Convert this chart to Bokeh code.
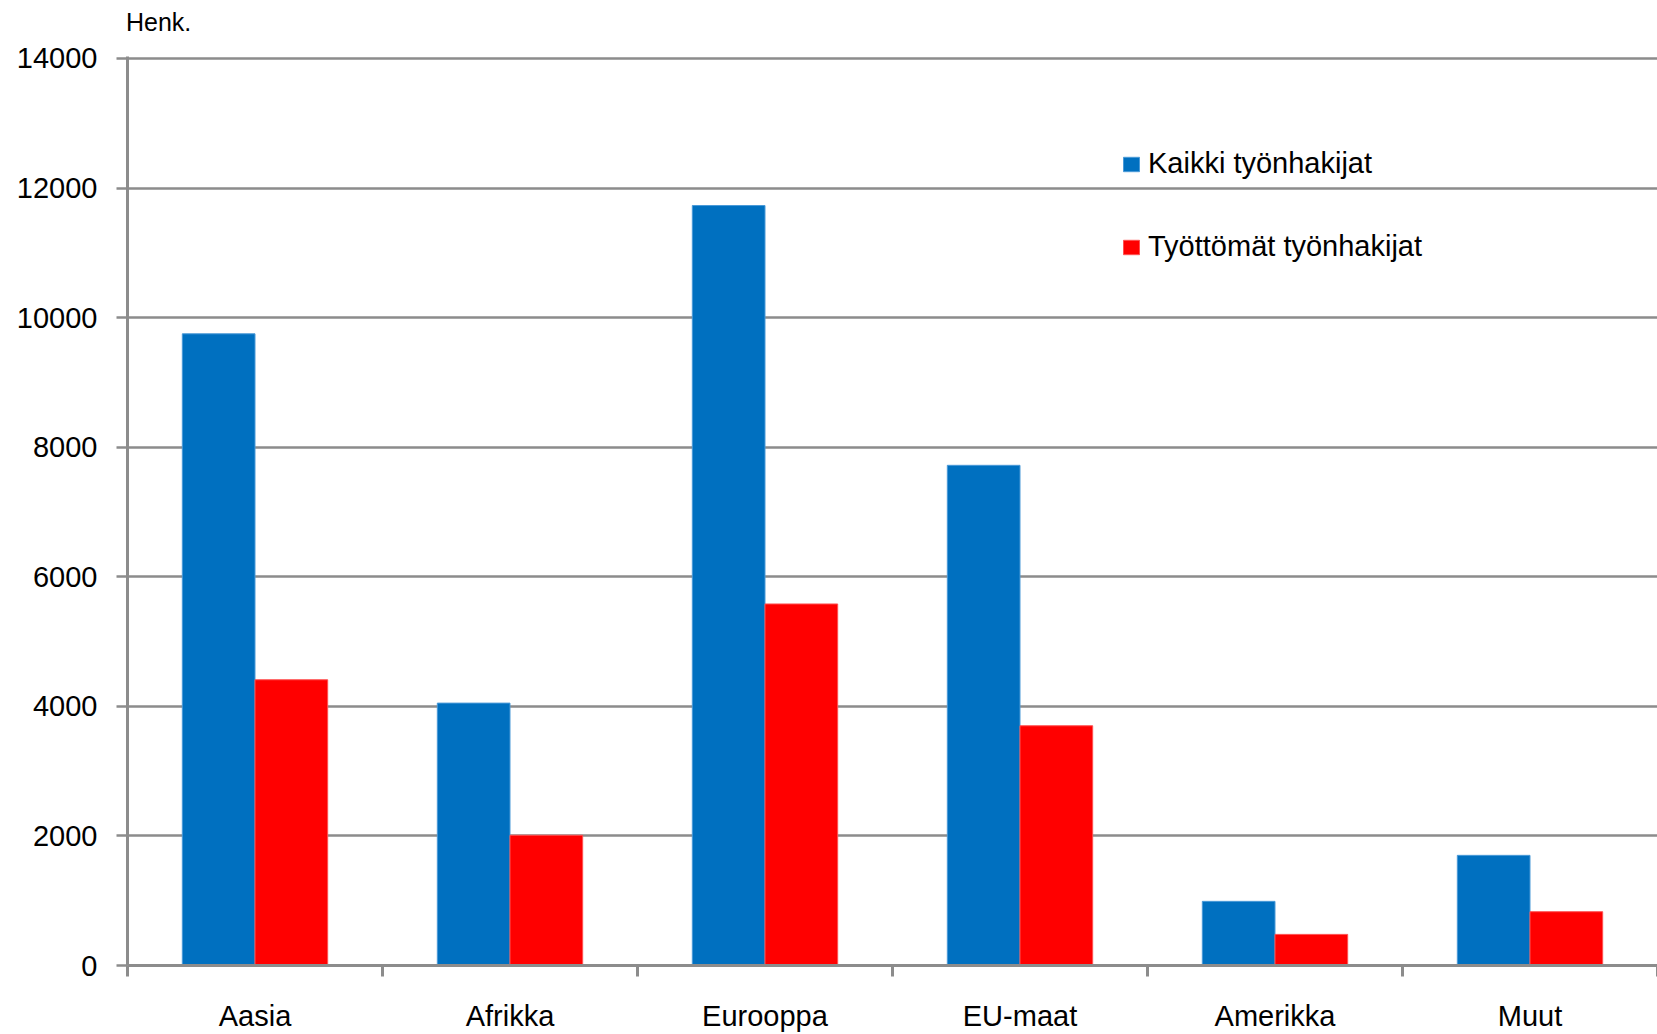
import numpy as np
from bokeh.plotting import figure
from bokeh.models import (ColumnDataSource, FixedTicker, Legend, LegendItem,
                          Range1d, LinearAxis)
from bokeh.embed import file_html
from bokeh.resources import INLINE

categories = ["Aasia", "Afrikka", "Eurooppa", "EU-maat", "Amerikka", "Muut"]
kaikki = [9750, 4050, 11730, 7720, 990, 1700]
tyottomat = [4410, 2010, 5580, 3700, 480, 830]
series_names = ["Kaikki työnhakijat", "Työttömät työnhakijat"]
y_ticks = [0, 2000, 4000, 6000, 8000, 10000, 12000, 14000]
unit_label = "Henk."

FONT = "Liberation Sans"
GREY = "#8c8c8c"
BLUE = "#0070C0"
RED = "#FF0000"
bar_w = 0.285
unit_label_pos = 0.122   # horizontal centre of the unit caption, in category widths

n = len(categories)
centers = np.arange(n) + 0.5
boundaries = list(range(n + 1))

src = ColumnDataSource(dict(
    x_blue=centers - bar_w / 2,
    x_red=centers + bar_w / 2,
    kaikki=kaikki,
    tyottomat=tyottomat,
))

p = figure(width=1657, height=1034,
           x_range=Range1d(0, n), y_range=Range1d(0, 14030),
           output_backend="svg", toolbar_location=None,
           min_border_left=127, min_border_right=0,
           min_border_top=56, min_border_bottom=69)
p.outline_line_color = None
p.background_fill_color = "white"

r1 = p.vbar(x="x_blue", top="kaikki", width=bar_w, source=src,
            fill_color=BLUE, line_color="#4a9ad8", line_width=1)
r2 = p.vbar(x="x_red", top="tyottomat", width=bar_w, source=src,
            fill_color=RED, line_color="#ff5050", line_width=1)

# x axis
xa = p.xaxis[0]
xa.ticker = FixedTicker(ticks=list(centers), minor_ticks=boundaries)
xa.major_label_overrides = {float(c): lab for c, lab in zip(centers, categories)}
xa.major_tick_out = 0
xa.major_tick_in = 0
xa.minor_tick_out = 11
xa.minor_tick_in = 0
xa.minor_tick_line_color = GREY
xa.minor_tick_line_width = 3
xa.axis_line_color = GREY
xa.axis_line_width = 3
xa.major_label_text_font = FONT
xa.major_label_text_font_size = "29px"
xa.major_label_text_color = "black"
xa.major_label_standoff = 23

# unit caption above the plot ("Henk.")
top_ax = LinearAxis(ticker=FixedTicker(ticks=[unit_label_pos]),
                    major_label_overrides={unit_label_pos: unit_label})
top_ax.axis_line_color = None
top_ax.major_tick_line_color = None
top_ax.minor_tick_line_color = None
top_ax.major_tick_out = 0
top_ax.major_tick_in = 0
top_ax.major_label_text_font = FONT
top_ax.major_label_text_font_size = "25px"
top_ax.major_label_text_color = "black"
top_ax.major_label_standoff = 21
p.add_layout(top_ax, "above")

# y axis
ya = p.yaxis[0]
ya.ticker = FixedTicker(ticks=y_ticks)
ya.minor_tick_line_color = None
ya.major_tick_out = 11
ya.major_tick_in = 0
ya.major_tick_line_color = GREY
ya.major_tick_line_width = 2.5
ya.axis_line_color = GREY
ya.axis_line_width = 3
ya.major_label_text_font = FONT
ya.major_label_text_font_size = "29px"
ya.major_label_text_color = "black"
ya.major_label_standoff = 19

p.xgrid.visible = False
p.ygrid.ticker = FixedTicker(ticks=y_ticks)
p.ygrid.grid_line_color = GREY
p.ygrid.grid_line_width = 2.5

legend = Legend(items=[LegendItem(label=series_names[0], renderers=[r1]),
                       LegendItem(label=series_names[1], renderers=[r2])],
                location=(994, 702), orientation="vertical",
                glyph_width=20, glyph_height=18, label_standoff=7,
                label_text_font=FONT, label_text_font_size="29px",
                label_text_color="black", label_height=28,
                spacing=50, padding=0, margin=0,
                border_line_color=None, background_fill_alpha=0)
p.add_layout(legend)

open("out.html", "w").write(file_html(p, INLINE))
